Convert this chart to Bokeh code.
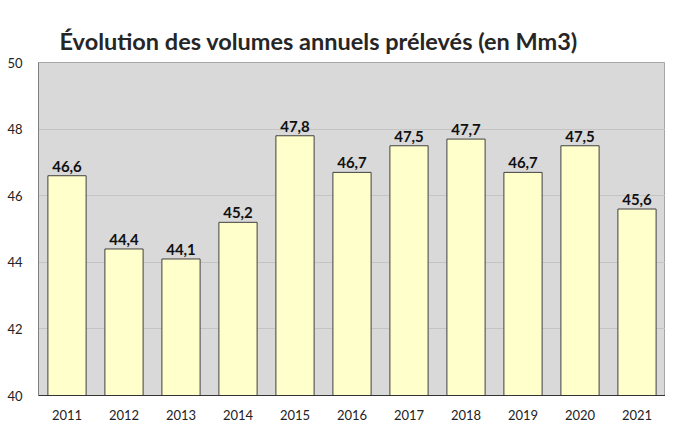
from bokeh.plotting import figure
from bokeh.models import ColumnDataSource, LabelSet, Range1d, FixedTicker
from bokeh.core.properties import value
from bokeh.embed import file_html
from bokeh.resources import INLINE

years = ["2011", "2012", "2013", "2014", "2015", "2016", "2017", "2018", "2019", "2020", "2021"]
volumes = [46.6, 44.4, 44.1, 45.2, 47.8, 46.7, 47.5, 47.7, 46.7, 47.5, 45.6]
y_ticks = [40, 42, 44, 46, 48, 50]
title_text = "Évolution des volumes annuels prélevés (en Mm3)"

labels = [f"{v:.1f}".replace(".", ",") for v in volumes]
src = ColumnDataSource(dict(x=years, top=volumes, lab=labels))

p = figure(x_range=years, y_range=Range1d(40, 50), width=665, height=424,
           output_backend="svg", toolbar_location=None,
           min_border_left=38, min_border_top=62, min_border_bottom=29, min_border_right=0)

p.title.text = title_text
p.title.align = "left"
p.title.offset = 21
p.title.text_font = "Lato"
p.title.text_font_size = "23.5px"
p.title.text_font_style = "bold"
p.title.text_color = "#262626"
p.title.standoff = 16

p.background_fill_color = "#d9d9d9"
p.border_fill_color = "white"
p.outline_line_color = "#a6a6a6"

p.vbar(x="x", top="top", bottom=40, width=0.67, source=src,
       fill_color="#ffffcc", line_color="#404040", line_width=1)

p.add_layout(LabelSet(x="x", y="top", text="lab", source=src, text_align="center",
                      text_baseline="bottom", y_offset=4, text_font=value("Lato"),
                      text_font_size=value("15px"), text_font_style="bold", text_color="#111111"))

p.xgrid.grid_line_color = None
p.ygrid.grid_line_color = "#c4c4c4"
p.ygrid.ticker = FixedTicker(ticks=y_ticks)

p.yaxis.ticker = FixedTicker(ticks=y_ticks)
p.yaxis.axis_line_color = "#7f7f7f"
p.yaxis.major_tick_line_color = None
p.yaxis.minor_tick_line_color = None
p.yaxis.major_label_standoff = 10
p.yaxis.major_label_text_font = "Lato"
p.yaxis.major_label_text_font_size = "13px"
p.yaxis.major_label_text_color = "#222222"

p.xaxis.axis_line_color = "#333333"
p.xaxis.major_tick_line_color = None
p.xaxis.minor_tick_line_color = None
p.xaxis.major_label_standoff = 8
p.xaxis.major_label_text_font = "Lato"
p.xaxis.major_label_text_font_size = "13px"
p.xaxis.major_label_text_color = "#222222"

p.x_range.range_padding = 0

open("out.html", "w").write(file_html(p, INLINE))
